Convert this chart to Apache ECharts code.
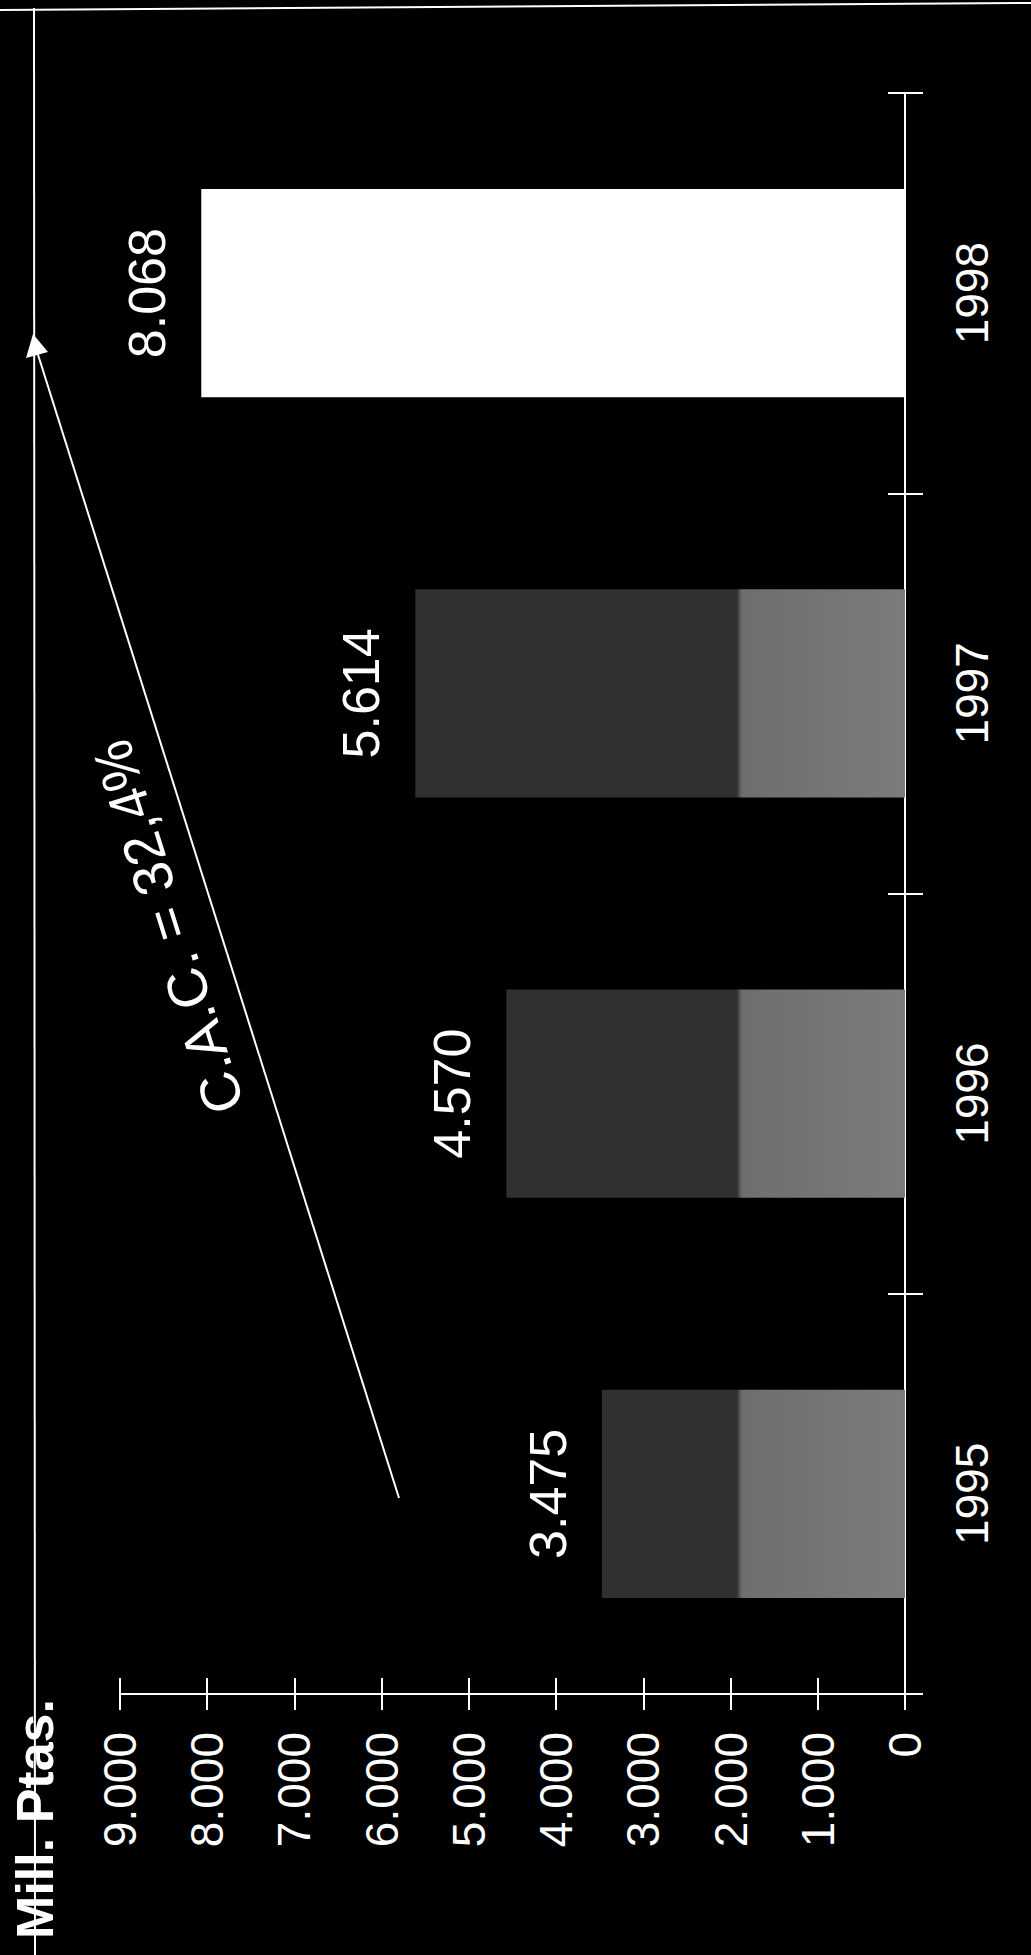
<!DOCTYPE html>
<html>
<head>
<meta charset="utf-8">
<title>Mill. Ptas. 1995-1998</title>
<script src="https://cdn.jsdelivr.net/npm/echarts@6/dist/echarts.min.js"></script>
<style>
  html, body { margin: 0; padding: 0; background: #000; }
  #chart { width: 1031px; height: 1955px; }
</style>
</head>
<body>
<div id="chart"></div>
<script>
// data
const years = ['1995', '1996', '1997', '1998']
const values = [3475, 4570, 5614, 8068]
const axisMin = 0
const axisMax = 9000
const axisStep = 1000
const unitLabel = 'Mill. Ptas.'
const growthLabel = 'C.A.C. = 32,4%'

// 8068 -> "8.068"
const fmt = v => String(v).replace(/\B(?=(\d{3})+(?!\d))/g, '.')

const font = "'Liberation Sans', Arial, sans-serif"
const chart = echarts.init(document.getElementById('chart'), null, { renderer: 'svg' })

const valueAxisBase = {
  type: 'value',
  min: axisMin,
  max: axisMax,
  interval: axisStep,
  inverse: true,
  position: 'bottom',
  splitLine: { show: false }
}
const catAxisBase = {
  type: 'category',
  data: years,
  position: 'right',
  splitLine: { show: false }
}

const option = {
  backgroundColor: '#000',
  animation: false,
  textStyle: { fontFamily: font },
  grid: { left: 120, right: 126, top: 93, bottom: 261 },
  xAxis: [
    {
      ...valueAxisBase,
      axisLine: { show: true, lineStyle: { color: '#fff', width: 2 } },
      axisTick: { show: true, length: 16, lineStyle: { color: '#fff', width: 2 } },
      axisLabel: { color: '#fff', fontSize: 46, rotate: 90, margin: 38, formatter: fmt }
    },
    {
      // second copy only for the ticks crossing the line
      ...valueAxisBase,
      axisLine: { show: false },
      axisTick: { show: true, inside: true, length: 16, lineStyle: { color: '#fff', width: 2 } },
      axisLabel: { show: false }
    }
  ],
  yAxis: [
    {
      ...catAxisBase,
      axisLine: { show: true, lineStyle: { color: '#fff', width: 2 } },
      axisTick: { show: true, length: 18, lineStyle: { color: '#fff', width: 2 } },
      axisLabel: { color: '#fff', fontSize: 46, rotate: 90, margin: 44 }
    },
    {
      ...catAxisBase,
      axisLine: { show: false },
      axisTick: { show: true, inside: true, length: 17, lineStyle: { color: '#fff', width: 2 } },
      axisLabel: { show: false }
    }
  ],
  series: [
    {
      type: 'bar',
      xAxisIndex: 0,
      yAxisIndex: 0,
      barWidth: '52%',
      data: values,
      itemStyle: { color: '#555' },
      label: {
        show: true,
        position: 'left',
        distance: 28,
        rotate: 90,
        align: 'center',
        verticalAlign: 'bottom',
        color: '#fff',
        fontSize: 52,
        formatter: p => fmt(p.value)
      }
    }
  ],
  graphic: [
    // frame lines of the scanned page
    { type: 'line', shape: { x1: 0, y1: 10, x2: 1031, y2: 3 }, style: { stroke: '#fff', lineWidth: 2 } },
    { type: 'line', shape: { x1: 34, y1: 8, x2: 35, y2: 1955 }, style: { stroke: '#fff', lineWidth: 2 } },
    // growth arrow
    { type: 'line', shape: { x1: 399, y1: 1498, x2: 34, y2: 342 }, style: { stroke: '#fff', lineWidth: 2 } },
    { type: 'polygon', shape: { points: [[33, 334], [26, 358], [48, 352]] }, style: { fill: '#fff' } },
    {
      type: 'text',
      x: 168,
      y: 927,
      rotation: 107.5 * Math.PI / 180,
      style: { text: growthLabel, fill: '#fff', fontSize: 56, fontFamily: font, align: 'center', verticalAlign: 'middle' }
    },
    {
      type: 'text',
      x: 35,
      y: 1819,
      rotation: Math.PI / 2,
      style: { text: unitLabel, fill: '#fff', fontSize: 52, fontWeight: 'bold', fontFamily: font, align: 'center', verticalAlign: 'middle' }
    }
  ]
}
chart.setOption(option)

// grey bars: dense shade near the axis, sparse shade further out
const x0 = chart.convertToPixel({ xAxisIndex: 0 }, 0)
const xs = chart.convertToPixel({ xAxisIndex: 0 }, 1860)
const shade = new echarts.graphic.LinearGradient(x0, 0, xs - 6, 0, [
  { offset: 0, color: '#7c7c7c' },
  { offset: 0.97, color: '#6e6e6e' },
  { offset: 1, color: '#303030' }
], true)
chart.setOption({
  series: [{
    data: values.map((v, i) => ({
      value: v,
      itemStyle: { color: i === values.length - 1 ? '#ffffff' : shade }
    }))
  }]
})
</script>
</body>
</html>
